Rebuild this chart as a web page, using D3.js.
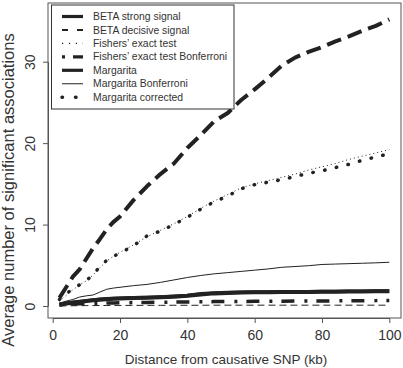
<!DOCTYPE html>
<html>
<head>
<meta charset="utf-8">
<script src="https://cdn.jsdelivr.net/npm/d3@7"></script>
<style>
  body { margin: 0; background: #fff; }
  text { font-family: "Liberation Sans", Arial, sans-serif; fill: #333; }
</style>
</head>
<body>
<svg id="chart"></svg>
<script>
// distance from causative SNP (kb)
const distance = [2, 4, 6, 8, 10, 12, 14, 16, 18, 20, 24, 28, 32, 36, 40, 44, 48, 52, 56, 60, 64, 68, 72, 76, 80, 84, 88, 92, 96, 100];

const betaStrong = [0.15, 0.3, 0.4, 0.5, 0.6, 0.7, 0.78, 0.84, 0.88, 0.92, 0.97, 1.02, 1.08, 1.15, 1.25, 1.42, 1.55, 1.6, 1.65, 1.68, 1.7, 1.71, 1.72, 1.73, 1.74, 1.75, 1.77, 1.78, 1.8, 1.8];
const betaDecisive = [1.0, 2.3, 3.6, 4.5, 5.8, 7.1, 8.2, 9.4, 10.3, 11.0, 13.0, 14.7, 16.2, 17.5, 19.4, 21.0, 22.7, 23.7, 25.3, 26.6, 28.0, 29.5, 30.5, 31.2, 31.8, 32.5, 33.1, 33.8, 34.4, 35.2];
const betaBaseline = [0.0, 0.02, 0.03, 0.04, 0.05, 0.05, 0.06, 0.06, 0.07, 0.07, 0.08, 0.08, 0.08, 0.09, 0.09, 0.09, 0.1, 0.1, 0.1, 0.1, 0.1, 0.1, 0.1, 0.1, 0.1, 0.1, 0.1, 0.1, 0.1, 0.1];
const fishers = [0.6, 1.3, 2.0, 2.6, 3.1, 3.8, 4.7, 5.5, 6.1, 6.6, 7.5, 8.5, 9.3, 10.1, 11.0, 12.0, 12.9, 13.7, 14.5, 15.0, 15.4, 15.8, 16.2, 16.7, 17.1, 17.5, 18.0, 18.4, 18.8, 19.2];
const fishersBonf = [0.15, 0.2, 0.25, 0.28, 0.3, 0.32, 0.34, 0.36, 0.38, 0.4, 0.42, 0.44, 0.46, 0.48, 0.5, 0.52, 0.54, 0.55, 0.56, 0.57, 0.58, 0.59, 0.6, 0.61, 0.62, 0.63, 0.64, 0.65, 0.66, 0.68];
const margarita = [0.2, 0.35, 0.45, 0.55, 0.65, 0.75, 0.82, 0.88, 0.92, 0.95, 1.0, 1.05, 1.12, 1.2, 1.3, 1.5, 1.6, 1.65, 1.7, 1.72, 1.73, 1.74, 1.75, 1.76, 1.77, 1.78, 1.8, 1.82, 1.83, 1.84];
const margaritaBonf = [0.35, 0.6, 0.8, 1.1, 1.25, 1.35, 1.7, 2.05, 2.2, 2.3, 2.5, 2.65, 2.9, 3.2, 3.5, 3.75, 3.95, 4.1, 4.25, 4.4, 4.55, 4.75, 4.85, 4.95, 5.1, 5.15, 5.2, 5.25, 5.3, 5.37];
const margaritaCorr = [0.8, 1.5, 2.1, 2.6, 3.1, 3.9, 4.8, 5.6, 6.1, 6.5, 7.4, 8.6, 9.2, 10.0, 10.9, 11.9, 12.8, 13.5, 14.4, 14.9, 15.2, 15.5, 15.9, 16.3, 16.6, 17.0, 17.4, 17.9, 18.3, 18.7];

const xTicks = [0, 20, 40, 60, 80, 100];
const yTicks = [0, 10, 20, 30];

const legendLabels = ["BETA strong signal", "BETA decisive signal", "Fishers\u2019 exact test", "Fishers\u2019 exact test Bonferroni", "Margarita", "Margarita Bonferroni", "Margarita corrected"];

// line styles (plot) and the matching legend keys
const series = [
    { values: betaBaseline, width: 1, dash: "7,4" },
    { values: fishersBonf, width: 3.5, dash: "3,9,13,10" },
    { values: betaStrong, width: 4, dash: null },
    { values: margarita, width: 3.5, dash: null },
    { values: margaritaBonf, width: 1, dash: null },
    { values: fishers, width: 1, dash: "1,3" },
    { values: margaritaCorr, width: 3.5, dash: "0.5,11.5", cap: "round" },
    { values: betaDecisive, width: 4, dash: "15,7" }
];
const legendKeys = [
    { width: 3.2, dash: null },
    { width: 2, dash: "6,9" },
    { width: 1.2, dash: "1.2,5.7" },
    { width: 3.2, dash: "3,8,10" },
    { width: 3.2, dash: null },
    { width: 1, dash: null },
    { width: 3.5, dash: "0.5,13", cap: "round" }
];

const width = 403, height = 368;
const box = { left: 48, right: 401, top: 3, bottom: 318 };

const svg = d3.select("#chart").attr("width", width).attr("height", height);

const x = d3.scaleLinear().domain([0, 100]).range([52.7, 389.3]);
const y = d3.scaleLinear().domain([0, 30]).range([306, 61.7]);

// plot frame
svg.append("rect")
    .attr("x", box.left).attr("y", box.top)
    .attr("width", box.right - box.left).attr("height", box.bottom - box.top)
    .attr("fill", "none").attr("stroke", "#555").attr("stroke-width", 1);

// axes
const xAxis = svg.append("g")
    .attr("transform", `translate(0,${box.bottom})`)
    .call(d3.axisBottom(x).tickValues(xTicks).tickSize(5).tickPadding(7).tickSizeOuter(0));
const yAxis = svg.append("g")
    .attr("transform", `translate(${box.left},0)`)
    .call(d3.axisLeft(y).tickValues(yTicks).tickSize(5).tickSizeOuter(0));

[xAxis, yAxis].forEach(g => {
    g.select(".domain").attr("stroke", "#555");
    g.selectAll(".tick line").attr("stroke", "#555");
    g.selectAll("text").style("font-family", "Liberation Sans, Arial, sans-serif").attr("fill", "#333");
});
xAxis.selectAll("text").style("font-size", "14px");
yAxis.selectAll("text")
    .style("font-size", "14px")
    .attr("text-anchor", "middle")
    .attr("dy", null)
    .attr("x", null)
    .attr("transform", "translate(-13,0) rotate(-90)");

// curves
const line = d3.line()
    .x((d, i) => x(distance[i]))
    .y(d => y(d));

svg.append("g")
    .selectAll("path")
    .data(series)
    .join("path")
    .attr("d", d => line(d.values))
    .attr("fill", "none")
    .attr("stroke", "#222")
    .attr("stroke-width", d => d.width)
    .attr("stroke-dasharray", d => d.dash)
    .attr("stroke-linecap", d => d.cap || "butt")
    .attr("stroke-linejoin", "round");

// axis titles
svg.append("text")
    .attr("x", 226).attr("y", 364)
    .attr("text-anchor", "middle")
    .style("font-size", "13.5px")
    .text("Distance from causative SNP (kb)");

svg.append("text")
    .attr("transform", "translate(14,190) rotate(-90)")
    .attr("text-anchor", "middle")
    .style("font-size", "16.5px")
    .text("Average number of significant associations");

// legend
const legend = svg.append("g");
legend.append("rect")
    .attr("x", 51.5).attr("y", 5)
    .attr("width", 182.5).attr("height", 104)
    .attr("fill", "#fff").attr("stroke", "#333").attr("stroke-width", 1);

const rowY = i => 16.5 + 13.45 * i;

const rows = legend.selectAll("g.row")
    .data(legendLabels)
    .join("g")
    .attr("class", "row")
    .attr("transform", (d, i) => `translate(0,${rowY(i)})`);

rows.append("line")
    .attr("x1", 62).attr("x2", 83)
    .attr("stroke", "#222")
    .attr("stroke-width", (d, i) => legendKeys[i].width)
    .attr("stroke-dasharray", (d, i) => legendKeys[i].dash)
    .attr("stroke-linecap", (d, i) => legendKeys[i].cap || "butt");

rows.append("text")
    .attr("x", 93)
    .attr("dy", "0.35em")
    .style("font-size", "10.4px")
    .text(d => d);
</script>
</body>
</html>
